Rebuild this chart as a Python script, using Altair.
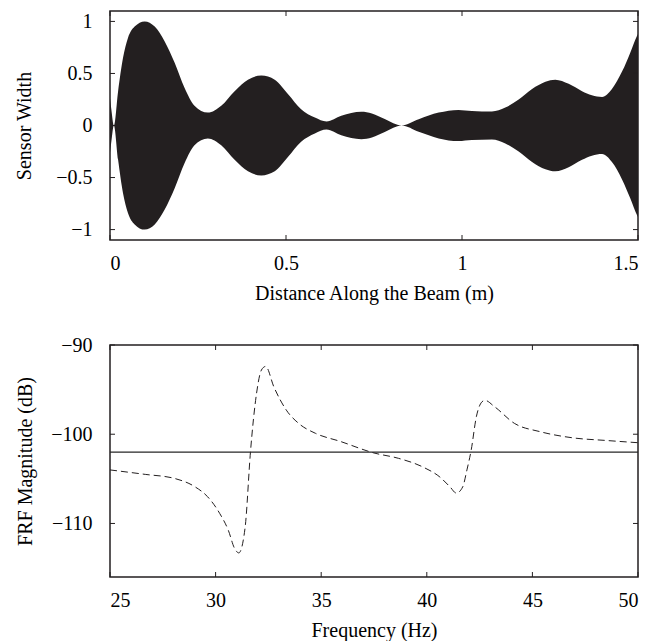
import altair as alt
import pandas as pd

# ---- Top panel: sensor width envelope (symmetric) ----
pos_m = [0.0, 0.004, 0.011, 0.023, 0.037, 0.051, 0.070, 0.0985, 0.127, 0.155, 0.184,
         0.212, 0.24, 0.278, 0.316, 0.354, 0.392, 0.43, 0.468, 0.506, 0.543, 0.582,
         0.615, 0.657, 0.714, 0.744, 0.782, 0.828, 0.877, 0.934, 0.99, 1.028, 1.085,
         1.123, 1.161, 1.199, 1.237, 1.265, 1.303, 1.341, 1.369, 1.398, 1.426, 1.455,
         1.478, 1.497, 1.5]
width_env = [0.26, 0.15, 0.0, 0.33, 0.65, 0.84, 0.95, 1.0, 0.95, 0.81, 0.60,
             0.36, 0.19, 0.124, 0.19, 0.33, 0.44, 0.48, 0.44, 0.30, 0.156, 0.076,
             0.038, 0.093, 0.131, 0.115, 0.06, 0.0, 0.06, 0.124, 0.15, 0.14, 0.134,
             0.172, 0.25, 0.35, 0.42, 0.44, 0.40, 0.33, 0.29, 0.274, 0.35, 0.52,
             0.70, 0.86, 0.88]

# ---- Bottom panel: FRF magnitude ----
freq_hz = [25.0, 26.67, 28.05, 29.03, 29.62, 30.2, 30.6, 30.9, 31.1, 31.4, 31.65,
           31.94, 32.17, 32.37, 32.76, 33.35, 33.94, 34.73, 35.9, 37.5, 38.66, 39.84,
           40.62, 41.1, 41.4, 41.7, 41.9, 42.1, 42.35, 42.6, 42.75, 43.2, 44.16,
           45.34, 46.9, 48.5, 50.0]
frf_db = [-104.0, -104.5, -104.95, -105.9, -107.0, -108.9, -110.75, -112.8, -113.3,
          -110.4, -102.0, -95.4, -92.8, -92.4, -94.7, -97.3, -98.8, -99.9, -100.8,
          -102.1, -102.7, -103.7, -104.8, -105.9, -106.6, -105.9, -104.0, -101.8,
          -98.0, -96.4, -96.2, -96.9, -98.8, -99.7, -100.4, -100.7, -100.95]
ref_freq_hz = [25.0, 50.0]
ref_level_db = [-102.0, -102.0]

top_x_ticks = [0, 0.5, 1, 1.5]
top_y_ticks = [-1, -0.5, 0, 0.5, 1]
bot_x_ticks = [25, 30, 35, 40, 45, 50]
bot_y_ticks = [-110, -100, -90]

W = 528
H1 = 229
H2 = 232
TICK = 5
INK = "#231f20"

top_df = pd.DataFrame({"x": pos_m, "hi": width_env, "lo": [-w for w in width_env]})
frf_df = pd.DataFrame({"f": freq_hz, "db": frf_db})
ref_df = pd.DataFrame({"f": ref_freq_hz, "db": ref_level_db})


def inward_ticks(xticks, yticks, xs, ys, xaxis, yaxis, xtitle, ytitle, h):
    xt = pd.DataFrame({"v": xticks})
    yt = pd.DataFrame({"v": yticks})
    layers = []
    for y0, y1 in [(h, h - TICK), (0, TICK)]:
        layers.append(
            alt.Chart(xt).mark_rule(color=INK, strokeWidth=1).encode(
                x=alt.X("v:Q", scale=xs, axis=xaxis, title=xtitle),
                y=alt.value(y0), y2=alt.value(y1)))
    for x0, x1 in [(0, TICK), (W, W - TICK)]:
        layers.append(
            alt.Chart(yt).mark_rule(color=INK, strokeWidth=1).encode(
                y=alt.Y("v:Q", scale=ys, axis=yaxis, title=ytitle),
                x=alt.value(x0), x2=alt.value(x1)))
    return layers


T1X, T1Y = "Distance Along the Beam (m)", "Sensor Width"
T2X, T2Y = "Frequency (Hz)", "FRF Magnitude (dB)"

# top panel
xs1 = alt.Scale(domain=[0, 1.5], nice=False, zero=False)
ys1 = alt.Scale(domain=[-1.1, 1.1], nice=False, zero=False)
xa1 = alt.Axis(values=top_x_ticks, format="~g")
ya1 = alt.Axis(values=top_y_ticks, format="~g", titlePadding=21)
top_area = alt.Chart(top_df).mark_area(color=INK, opacity=1, interpolate="monotone").encode(
    x=alt.X("x:Q", scale=xs1, title=T1X, axis=xa1),
    y=alt.Y("hi:Q", scale=ys1, title=T1Y, axis=ya1),
    y2="lo:Q",
)
top = alt.layer(top_area, *inward_ticks(top_x_ticks, top_y_ticks, xs1, ys1, xa1, ya1,
                                        T1X, T1Y, H1)).properties(width=W, height=H1)

# bottom panel
xs2 = alt.Scale(domain=[25, 50], nice=False, zero=False)
ys2 = alt.Scale(domain=[-116, -90], nice=False, zero=False)
xa2 = alt.Axis(values=bot_x_ticks, format="d")
ya2 = alt.Axis(values=bot_y_ticks, format="d", titlePadding=15)
ref_line = alt.Chart(ref_df).mark_line(color="#262626", strokeWidth=1.4).encode(
    x=alt.X("f:Q", scale=xs2, title=T2X, axis=xa2),
    y=alt.Y("db:Q", scale=ys2, title=T2Y, axis=ya2),
)
frf_line = alt.Chart(frf_df).mark_line(color=INK, strokeWidth=1, strokeDash=[7, 4],
                                       interpolate="monotone").encode(
    x=alt.X("f:Q", scale=xs2, title=T2X, axis=xa2),
    y=alt.Y("db:Q", scale=ys2, title=T2Y, axis=ya2),
)
bottom = alt.layer(ref_line, frf_line,
                   *inward_ticks(bot_x_ticks, bot_y_ticks, xs2, ys2, xa2, ya2,
                                 T2X, T2Y, H2)).properties(width=W, height=H2)

chart = alt.vconcat(top, bottom, spacing=30).properties(
    padding={"left": 5, "top": 1, "right": 0, "bottom": 0}
).configure_view(
    stroke=INK, strokeWidth=1.5
).configure_axis(
    labelFont="Liberation Serif", titleFont="Liberation Serif",
    labelFontSize=20, titleFontSize=20, titleFontWeight="normal",
    labelColor="black", titleColor="black",
    ticks=False, domain=False, grid=False,
).configure_axisX(labelPadding=13, titlePadding=10
).configure_axisY(labelPadding=18)

chart.save("out.html", embed_options={"renderer": "svg", "actions": False})
